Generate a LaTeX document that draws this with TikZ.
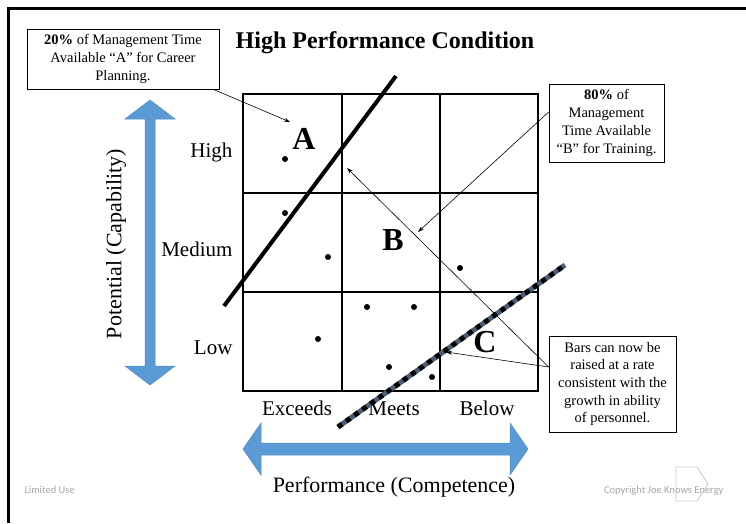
\documentclass[tikz,border=0pt]{standalone}
\usepackage{fontspec}
\setmainfont{Liberation Serif}
\newfontfamily\piedefont{Carlito}
\usetikzlibrary{arrows.meta}
\definecolor{blufreccia}{HTML}{5B9BD5}
\definecolor{bordoblu}{HTML}{4F8AC4}
\definecolor{grigioblu}{HTML}{4A5D75}
\definecolor{grigio}{HTML}{A6A6A6}
\definecolor{grigiochiaro}{HTML}{C8C8C8}

\begin{document}
\begin{tikzpicture}[x=1pt, y=-1pt,
    nota/.style={draw, line width=0.8pt, align=center, inner sep=2pt,
        font=\fontsize{14.5}{17.7}\selectfont},
    freccia/.style={-{Stealth[length=6pt, width=4pt]}, line width=0.6pt},
    etichetta/.style={font=\fontsize{21}{24}\selectfont},
    lettera/.style={font=\fontsize{32}{36}\selectfont\bfseries},
    piede/.style={font=\piedefont\fontsize{10.5}{12}\selectfont, text=grigio},
    grossa/.style={fill=blufreccia, draw=bordoblu, line width=0.5pt}]
    \useasboundingbox (0,0) rectangle (746,523);

    % Cornice
    \draw[line width=3pt] (8,523) -- (8,8) -- (746,8);

    % Titolo
    \node[font=\fontsize{24}{28}\selectfont\bfseries, anchor=base] (titolo) at (385,48) {High Performance Condition};

    % Frecce blu
    \fill[grossa] (150,100) -- (175,119) -- (155,119) -- (155,366) -- (175,366) -- (150,385)
        -- (125,366) -- (145,366) -- (145,119) -- (125,119) -- cycle;
    \fill[grossa] (243,449) -- (261,423) -- (261,443) -- (510,443) -- (510,423) -- (528,449)
        -- (510,475) -- (510,455) -- (261,455) -- (261,475) -- cycle;

    % Griglia
    \draw[line width=1.8pt] (243,94) rectangle (538,391);
    \foreach \x in {342,440} \draw[line width=1.8pt] (\x,94) -- (\x,391);
    \foreach \y in {193,292} \draw[line width=1.8pt] (243,\y) -- (538,\y);

    % Etichette
    \node[etichetta, anchor=base east] (alto) at (236,157) {High};
    \node[etichetta, anchor=base east] (medio) at (236,256) {Medium};
    \node[etichetta, anchor=base east] (basso) at (236,354) {Low};
    \node[etichetta, anchor=base] (supera) at (297,415) {Exceeds};
    \node[etichetta, anchor=base] (rispetta) at (394,415) {Meets};
    \node[etichetta, anchor=base] (sotto) at (487,415) {Below};
    \node[font=\fontsize{22}{26}\selectfont, rotate=90] (potenziale) at (116,244) {Potential (Capability)};
    \node[font=\fontsize{22}{26}\selectfont, anchor=base] (prestazione) at (394,492) {Performance (Competence)};

    % Punti
    \foreach \p in {(285,159),(285,213),(328,257),(460,268),(367,307),(414,307),(318,339),(389,367),(432,377)}
        \fill \p circle (3pt);

    % Linee
    \coordinate (a1) at (224,306);
    \coordinate (a2) at (396,76);
    \draw[line width=4pt] (a1) -- (a2);
    \coordinate (c1) at (338,427);
    \coordinate (c2) at (565,265);
    \draw[line width=5pt, grigioblu] (c1) -- (c2);
    \draw[line width=5pt, dash pattern=on 5pt off 5pt] (c1) -- (c2);

    % Lettere
    \node[lettera] (A) at (304,139) {A};
    \node[lettera] (B) at (393,240) {B};
    \node[lettera] (C) at (485,342) {C};

    % Note
    \node[nota, minimum width=192pt, minimum height=60pt] (notaA) at (123,59)
        {\textbf{20\%} of Management Time\\Available “A” for Career\\Planning.};
    \node[nota, minimum width=115pt, minimum height=78pt] (notaB) at (606.5,123)
        {\textbf{80\%} of\\Management\\Time Available\\“B” for Training.};
    \node[nota, minimum width=127pt, minimum height=96pt] (notaC) at (612.5,384)
        {Bars can now be\\raised at a rate\\consistent with the\\growth in ability\\of personnel.};

    % Archi
    \coordinate (puntaA) at (290,122);
    \coordinate (puntaB) at (418,232);
    \coordinate (incrocio) at (347,168);
    \coordinate (puntaC) at (446,352);
    \draw[freccia] ([xshift=-6pt]notaA.south east) -- (puntaA);
    \draw[freccia] ([yshift=11pt]notaB.west) -- (puntaB);
    \draw[freccia] ([yshift=17pt]notaC.west) -- (incrocio);
    \draw[freccia] ([yshift=17pt]notaC.west) -- (puntaC);

    % Piede
    \node[piede, anchor=base west] (uso) at (21,493) {Limited Use};
    \draw[grigiochiaro, line width=0.8pt] (676,467) -- (697,467) -- (708,484) -- (697,501) -- (676,501) -- cycle;
    \node[piede, anchor=base east] (copyright) at (727,493) {Copyright Joe Knows Energy};
\end{tikzpicture}
\end{document}
